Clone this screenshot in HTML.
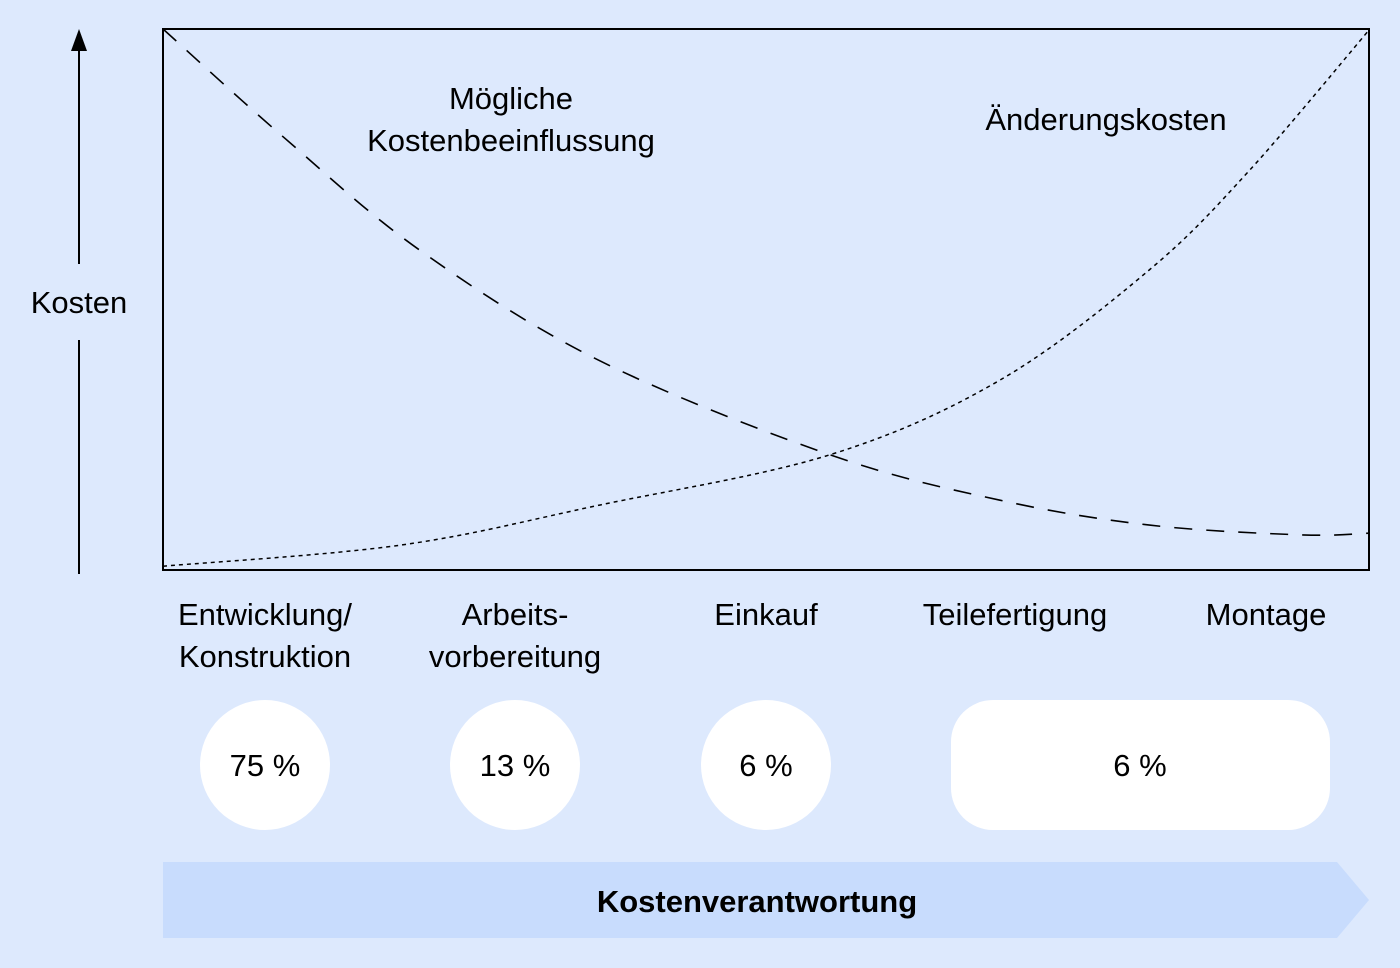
<!DOCTYPE html>
<html><head><meta charset="utf-8"><style>
body{margin:0;background:#dde9fd;}
svg{display:block;font-family:"Liberation Sans",sans-serif;}
</style></head><body>
<svg width="1400" height="968" viewBox="0 0 1400 968">
<rect width="1400" height="968" fill="#dde9fd"/>
<g id="plot"></g>
<line x1="79" y1="574" x2="79" y2="340" stroke="#000" stroke-width="2"/>
<line x1="79" y1="264" x2="79" y2="48" stroke="#000" stroke-width="2"/>
<polygon points="79,29 71,51 87,51" fill="#000"/>
<text x="79" y="313" font-size="31" text-anchor="middle">Kosten</text>
<text x="511" y="109" font-size="31" text-anchor="middle"><tspan x="511">Mögliche</tspan><tspan x="511" dy="42">Kostenbeeinflussung</tspan></text>
<text x="1106" y="130" font-size="31" text-anchor="middle">Änderungskosten</text>
<g font-size="31" text-anchor="middle">
<text x="265" y="625"><tspan x="265">Entwicklung/</tspan><tspan x="265" dy="42">Konstruktion</tspan></text>
<text x="515" y="625"><tspan x="515">Arbeits-</tspan><tspan x="515" dy="42">vorbereitung</tspan></text>
<text x="766" y="625">Einkauf</text>
<text x="1015" y="625">Teilefertigung</text>
<text x="1266" y="625">Montage</text>
</g>
<circle cx="265" cy="765" r="65" fill="#fff"/>
<circle cx="515" cy="765" r="65" fill="#fff"/>
<circle cx="766" cy="765" r="65" fill="#fff"/>
<rect x="951" y="700" width="379" height="130" rx="42" fill="#fff"/>
<g font-size="31" text-anchor="middle">
<text x="265" y="776">75 %</text>
<text x="515" y="776">13 %</text>
<text x="766" y="776">6 %</text>
<text x="1140" y="776">6 %</text>
</g>
<polygon points="163,862 1337,862 1369,900 1337,938 163,938" fill="#c8dcfd"/>
<text x="757" y="912" font-size="31" font-weight="bold" text-anchor="middle">Kostenverantwortung</text>
</svg>
<script>
const xDashed=[0,10,21.3,36.1,55.3,69.4,81.8,94.3,100];
const yDashed=[100,80,59.1,38.8,21.3,12.9,8.3,6.5,6.8];
const xDotted=[0,19.7,36.2,55.3,69.4,81.8,90.1,100];
const yDotted=[0.7,4.6,12.0,21.3,35.1,55.5,73.9,99.8];
const X0=163,X1=1369,Y0=570,Y1=29;
function sx(v){return X0+(X1-X0)*v/100;}
function sy(v){return Y0-(Y0-Y1)*v/100;}
function path(xs,ys){
  const p=xs.map((x,i)=>[sx(x),sy(ys[i])]);
  let d='M'+p[0][0]+','+p[0][1];
  for(let i=0;i<p.length-1;i++){
    const a=p[Math.max(0,i-1)],b=p[i],c=p[i+1],e=p[Math.min(p.length-1,i+2)];
    const c1=[b[0]+(c[0]-a[0])/6,b[1]+(c[1]-a[1])/6];
    const c2=[c[0]-(e[0]-b[0])/6,c[1]-(e[1]-b[1])/6];
    d+=' C'+c1+' '+c2+' '+c;
  }
  return d;
}
const ns='http://www.w3.org/2000/svg';
const g=document.getElementById('plot');
const frame=document.createElementNS(ns,'rect');
frame.setAttribute('x',X0);frame.setAttribute('y',Y1);frame.setAttribute('width',X1-X0);frame.setAttribute('height',Y0-Y1);
frame.setAttribute('fill','none');frame.setAttribute('stroke','#000');frame.setAttribute('stroke-width','2');


g.appendChild(frame);
const l1=document.createElementNS(ns,'path');
l1.setAttribute('d',path(xDashed,yDashed));l1.setAttribute('fill','none');l1.setAttribute('stroke','#000');
l1.setAttribute('stroke-width','1.6');l1.setAttribute('stroke-dasharray','18,14');


g.appendChild(l1);
const l2=document.createElementNS(ns,'path');
l2.setAttribute('d',path(xDotted,yDotted));l2.setAttribute('fill','none');l2.setAttribute('stroke','#000');
l2.setAttribute('stroke-width','1.5');l2.setAttribute('stroke-dasharray','4,4');


g.appendChild(l2);
</script>
</body></html>
